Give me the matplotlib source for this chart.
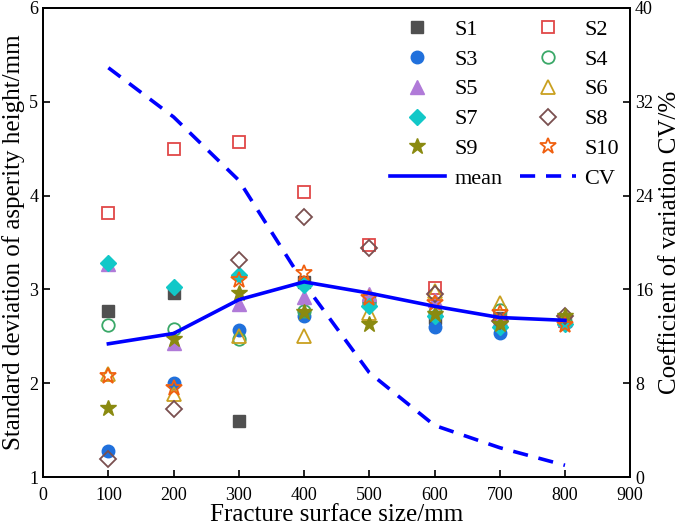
import matplotlib
matplotlib.use('Agg')
import matplotlib.pyplot as plt

plt.rcParams['font.family'] = ['Liberation Serif', 'DejaVu Serif']

# fracture surface size / mm
size = [100, 200, 300, 400, 500, 600, 700, 800]

# standard deviation of asperity height for each sample
S1 = [2.77, 2.96, 1.60, 3.08, 2.90, 2.70, 2.70, 2.66]
S2 = [3.81, 4.50, 4.57, 4.04, 3.47, 3.01, 2.72, 2.66]
S3 = [1.28, 2.00, 2.57, 2.72, 2.85, 2.60, 2.54, 2.64]
S4 = [2.62, 2.58, 2.47, 2.77, 2.88, 2.76, 2.78, 2.65]
S5 = [3.27, 2.43, 2.84, 2.92, 2.95, 2.89, 2.68, 2.68]
S6 = [2.10, 1.88, 2.50, 2.50, 2.75, 2.98, 2.85, 2.70]
S7 = [3.28, 3.03, 3.15, 3.05, 2.82, 2.72, 2.60, 2.63]
S8 = [1.19, 1.73, 3.31, 3.77, 3.44, 2.95, 2.66, 2.72]
S9 = [1.74, 2.47, 2.96, 2.76, 2.63, 2.74, 2.63, 2.72]
S10 = [2.08, 1.95, 3.10, 3.17, 2.91, 2.86, 2.75, 2.62]

mean = [2.42, 2.53, 2.89, 3.08, 2.96, 2.82, 2.70, 2.67]
cv = [34.9, 30.7, 25.3, 16.5, 8.9, 4.4, 2.5, 1.0]

series = [S1, S2, S3, S4, S5, S6, S7, S8, S9, S10]
names = ['S1', 'S2', 'S3', 'S4', 'S5', 'S6', 'S7', 'S8', 'S9', 'S10']
markers = ['s', 's', 'o', 'o', '^', '^', 'D', 'D', '*', '*']
colors = ['#505050', '#e04848', '#2070dc', '#3aa868', '#b07ad8',
          '#c9a020', '#12c8c8', '#7a5050', '#8a8a10', '#f06010']
filled = [True, False, True, False, True, False, True, False, True, False]
msizes = [8, 8, 9, 9, 10, 10, 8, 8, 12, 12]

fig = plt.figure(figsize=(6.85, 5.30), dpi=100)
ax1 = fig.add_axes([0.063, 0.1, 0.857, 0.885])
ax2 = ax1.twinx()

handles = []
for s, n, m, c, f, ms in zip(series, names, markers, colors, filled, msizes):
    if f:
        h, = ax1.plot(size, s, linestyle='none', marker=m, ms=ms, color=c,
                      markeredgecolor=c, label=n)
    else:
        h, = ax1.plot(size, s, linestyle='none', marker=m, ms=ms,
                      markerfacecolor='none', markeredgecolor=c,
                      markeredgewidth=1.3, label=n)
    handles.append(h)

h_mean, = ax1.plot(size, mean, color='#0000ff', lw=2.6, label='mean')
h_cv, = ax2.plot(size, cv, color='#0000ff', lw=2.6, linestyle=(0, (4.2, 3)), label='CV')

ax1.set_xlim(0, 900)
ax1.set_ylim(1, 6)
ax2.set_ylim(0, 40)
ax1.set_xticks(range(0, 901, 100))
ax1.set_yticks([1, 2, 3, 4, 5, 6])
ax2.set_yticks([0, 8, 16, 24, 32, 40])

for ax in (ax1, ax2):
    ax.tick_params(direction='in', length=5, width=1.2, labelsize=13)
    for sp in ax.spines.values():
        sp.set_linewidth(1.3)
ax1.tick_params(axis='x', pad=7.5)

ax1.set_xlabel('Fracture surface size/mm', fontsize=18, labelpad=0)
ax1.set_ylabel('Standard deviation of asperity height/mm', fontsize=18, labelpad=3)
ax2.set_ylabel('Coefficient of variation CV/%', fontsize=18, labelpad=4)

# row-wise legend order with 2 columns
col1 = [handles[0], handles[2], handles[4], handles[6], handles[8], h_mean]
col2 = [handles[1], handles[3], handles[5], handles[7], handles[9], h_cv]
leg = ax1.legend(col1 + col2, [h.get_label() for h in col1 + col2], ncol=2,
                 loc='upper right', bbox_to_anchor=(1.0, 1.0), frameon=False,
                 fontsize=16, handlelength=2.5, handletextpad=0.4,
                 columnspacing=0.8, labelspacing=0.42, borderaxespad=0.1)
ax1.set_zorder(ax2.get_zorder() + 1)
ax1.patch.set_visible(False)

fig.savefig('out.png', dpi=100)
